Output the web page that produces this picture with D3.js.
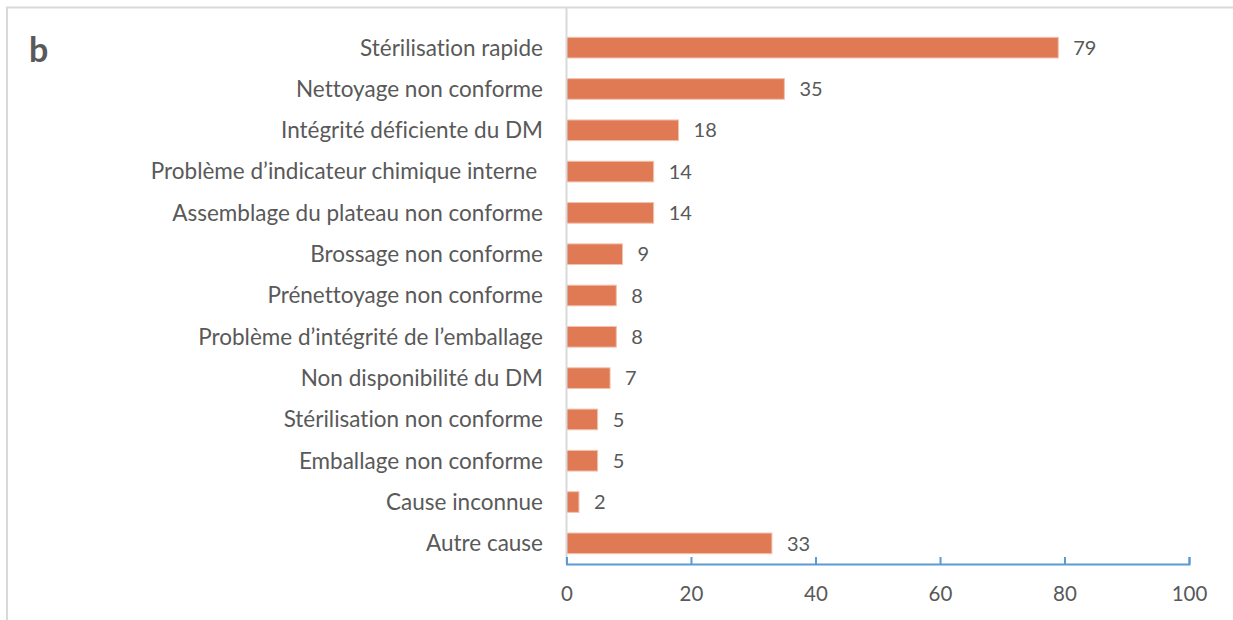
<!DOCTYPE html>
<html>
<head>
<meta charset="utf-8">
<script src="https://cdn.jsdelivr.net/npm/d3@7"></script>
<style>
  body { margin: 0; background: #fff; }
  text { font-family: Lato, "Open Sans", sans-serif; fill: #595959; font-variant-ligatures: none; }
</style>
</head>
<body>
<script>
// données
var causes = ["Stérilisation rapide", "Nettoyage non conforme", "Intégrité déficiente du DM",
  "Problème d’indicateur chimique interne ", "Assemblage du plateau non conforme",
  "Brossage non conforme", "Prénettoyage non conforme", "Problème d’intégrité de l’emballage",
  "Non disponibilité du DM", "Stérilisation non conforme", "Emballage non conforme",
  "Cause inconnue", "Autre cause"];
var valeurs = [79, 35, 18, 14, 14, 9, 8, 8, 7, 5, 5, 2, 33];
var ticksX = [0, 20, 40, 60, 80, 100];

var width = 1233;
var height = 620;
var svg = d3.select("body").append("svg")
  .attr("width", width)
  .attr("height", height);

// cadre
svg.append("path")
  .attr("d", "M7," + height + "V7.5H" + width)
  .attr("fill", "none")
  .attr("stroke", "#d9d9d9")
  .attr("stroke-width", 2);

svg.append("text")
  .text("b")
  .attr("x", 29)
  .attr("y", 62)
  .attr("font-size", 34)
  .attr("font-weight", "bold");

var x = d3.scaleLinear().domain([0, 100]).range([566.5, 1189]);
var y = d3.scaleBand().domain(causes).range([27, 564]).paddingInner(0.5).paddingOuter(0.25);

// barres
svg.selectAll("rect.barre")
  .data(valeurs)
  .enter().append("rect")
  .attr("class", "barre")
  .attr("x", x(0))
  .attr("y", (d, i) => y(causes[i]))
  .attr("width", d => x(d) - x(0))
  .attr("height", y.bandwidth())
  .attr("fill", "#e07a55")
  .attr("stroke", "#f3c2ad")
  .attr("stroke-width", 1);

// valeurs
svg.selectAll("text.valeur")
  .data(valeurs)
  .enter().append("text")
  .attr("class", "valeur")
  .attr("x", d => x(d) + 15)
  .attr("y", (d, i) => y(causes[i]) + y.bandwidth() / 2)
  .attr("dy", "0.36em")
  .attr("font-size", 20)
  .text(d => d);

// libellés
svg.selectAll("text.cause")
  .data(causes)
  .enter().append("text")
  .attr("class", "cause")
  .attr("x", 543)
  .attr("y", d => y(d) + y.bandwidth() / 2)
  .attr("dy", "0.35em")
  .attr("text-anchor", "end")
  .attr("font-size", 22.5)
  .style("white-space", "pre")
  .text(d => d);

// axe vertical
svg.append("line")
  .attr("x1", x(0)).attr("x2", x(0))
  .attr("y1", 7).attr("y2", 564)
  .attr("stroke", "#d9d9d9")
  .attr("stroke-width", 2);

// axe horizontal
var axeX = svg.append("g").attr("transform", "translate(0,564)")
  .call(d3.axisBottom(x).tickValues(ticksX).tickSizeInner(-7).tickSizeOuter(-7).tickPadding(22));
axeX.select(".domain").attr("stroke", "#5b9bd5").attr("stroke-width", 2);
axeX.selectAll(".tick line").attr("stroke", "#5b9bd5").attr("stroke-width", 2);
axeX.selectAll(".tick text")
  .attr("font-family", "Lato, sans-serif")
  .attr("font-size", 20.5)
  .attr("fill", "#595959");
</script>
</body>
</html>
